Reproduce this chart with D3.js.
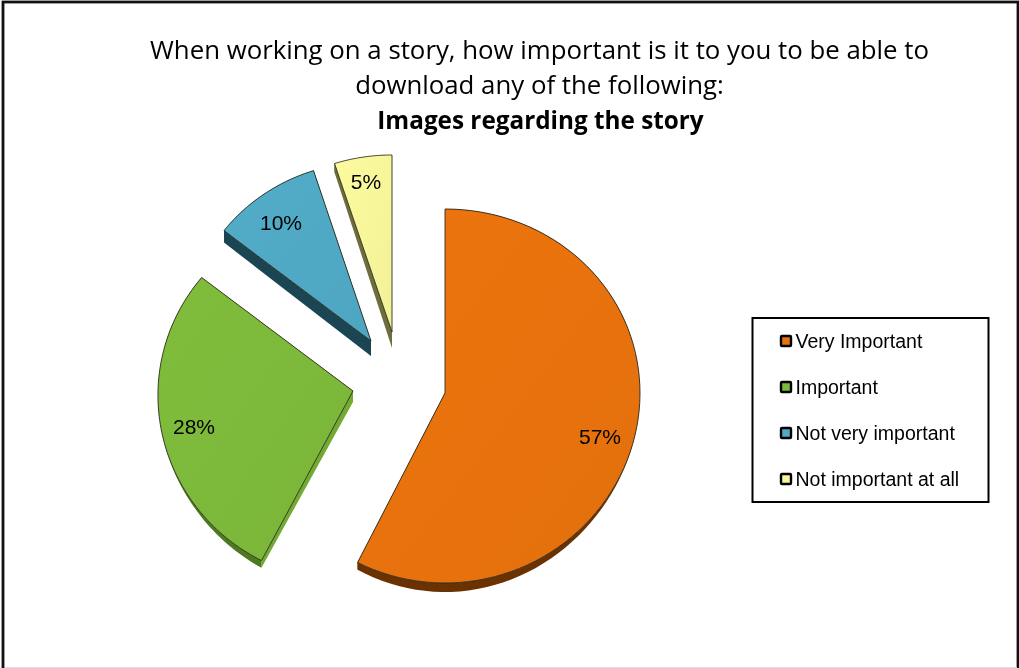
<!DOCTYPE html>
<html><head><meta charset="utf-8">
<script src="https://cdn.jsdelivr.net/npm/d3@7"></script>
<style>html,body{margin:0;padding:0;background:#fff}svg{display:block}</style>
</head><body><svg id="c" width="1019" height="668"></svg>
<script>
const categories = ["Very Important","Important","Not very important","Not important at all"];
const percentValues = [57.4,28.1,9.5,5.0];
const titleLines = ["When working on a story, how important is it to you to be able to","download any of the following:"];
const titleBold = "Images regarding the story";
const topColors = ["#e8720f","#7db93a","#50a9c5","#f8f69b"];
const rimColors = ["#6b3100","#4c7a20","#1c4452","#6d6d3c"];
const edgeColors = ["#6b3100","#72ab30","#1c4452","#6d6d3c"];

const sliceLayout = [
  {cx:445,cy:393,rx:195,ry:187,depth:9,rimDepth:9,shear:0,taper:true},
  {cx:353,cy:391,rx:195,ry:187,depth:11,rimDepth:9,shear:-0.024,taper:true},
  {cx:371,cy:341,rx:186,ry:182,depth:15,rimDepth:12,shear:0,taper:false},
  {cx:392,cy:332,rx:186,ry:180,depth:16,rimDepth:9,shear:0,taper:false}
];
const svg = d3.select("#c");
const defs = svg.append("defs");
topColors.forEach((c,i)=>{
  const g = defs.append("linearGradient").attr("id","g"+i).attr("x1","0").attr("y1","0").attr("x2","1").attr("y2","1");
  g.append("stop").attr("offset","0").attr("stop-color",d3.color(c).brighter(0.06));
  g.append("stop").attr("offset","1").attr("stop-color",d3.color(c).darker(0.06));
});
defs.append("filter").attr("id","soft").append("feGaussianBlur").attr("stdDeviation",0.45);
defs.append("filter").attr("id","softText").append("feGaussianBlur").attr("stdDeviation",0.25);

// outer frame
svg.append("rect").attr("x",3).attr("y",2).attr("width",1015).attr("height",680)
  .attr("fill","#fff").attr("stroke","#111").attr("stroke-width",2.8);
svg.append("line").attr("x1",5).attr("x2",1017).attr("y1",667.5).attr("y2",667.5).attr("stroke","#ddd");

const pie = d3.pie().sort(null).value(d=>d);
const arcs = pie(percentValues);
const lineGen = d3.line();
function project(L,a){
  const c = Math.cos(a), s = Math.sin(a);
  const dy = -L.ry*c + 3*c*c;
  return [L.cx + L.rx*s + L.shear*dy, L.cy + dy];
}
const gSlices = svg.append("g").attr("filter","url(#soft)");
[3,2,1,0].forEach(i=>{
  const L = sliceLayout[i], d = arcs[i];
  const angles = d3.range(81).map(k=>d.startAngle+(d.endAngle-d.startAngle)*k/80);
  const pts = angles.map(a=>project(L,a));
  const rimDrop = a=>L.taper ? L.rimDepth*Math.cos(a)*Math.cos(a) : L.rimDepth;
  const low = angles.map((a,k)=>[pts[k][0],pts[k][1]+rimDrop(a)]);
  const apex = [L.cx,L.cy], apexLow = [L.cx,L.cy+L.depth];
  const g = gSlices.append("g");
  [0,80].forEach(k=>{
    g.append("path").attr("d",lineGen([apex,pts[k],low[k],apexLow])+"Z").attr("fill",edgeColors[i]);
  });
  g.append("path").attr("d",lineGen(pts.concat(low.slice().reverse()))+"Z").attr("fill",rimColors[i]);
  g.append("path").attr("d",lineGen([apex].concat(pts))+"Z")
    .attr("fill",`url(#g${i})`).attr("stroke","#2a2a1c").attr("stroke-width",0.9).attr("stroke-linejoin","round");
});

// value labels
const labelAnchors = [[600,436],[194,426],[281,222],[366,181]];
svg.append("g").attr("filter","url(#softText)").selectAll("text").data(percentValues).join("text")
  .attr("x",(d,i)=>labelAnchors[i][0]).attr("y",(d,i)=>labelAnchors[i][1]).attr("dy","0.36em")
  .attr("text-anchor","middle").attr("font-family","Liberation Sans").attr("font-size",21).attr("fill","#000")
  .text(d=>Math.round(d)+"%");

// title
const tg = svg.append("g").attr("text-anchor","middle").attr("fill","#000").attr("filter","url(#softText)");
tg.selectAll("text.t").data(titleLines).join("text").attr("class","t")
  .attr("x",539.5).attr("y",(d,i)=>59+i*35).attr("font-family","Open Sans").attr("font-size",25.8).text(d=>d);
tg.append("text").attr("x",540.5).attr("y",129).attr("font-family","Open Sans").attr("font-weight",700).attr("font-size",24.3).text(titleBold);

// legend
svg.append("rect").attr("x",752.5).attr("y",318).attr("width",236).attr("height",184).attr("fill","#fff").attr("stroke","#000").attr("stroke-width",2);
const ly = d3.scalePoint().domain(categories).range([341,479]);
const lg = svg.append("g").selectAll("g").data(categories).join("g").attr("transform",d=>`translate(0,${ly(d)})`);
lg.append("rect").attr("x",781).attr("y",-5).attr("width",10).attr("height",10).attr("rx",1).attr("fill",(d,i)=>topColors[i]).attr("stroke","#000").attr("stroke-width",2.4);
lg.append("text").attr("x",795.5).attr("dy","0.36em").attr("font-family","Liberation Sans").attr("font-size",19.5).attr("fill","#000").attr("filter","url(#softText)").text(d=>d);
</script></body></html>
